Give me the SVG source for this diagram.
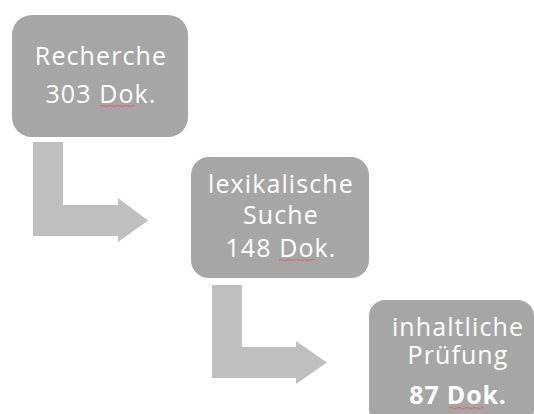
<svg xmlns="http://www.w3.org/2000/svg" width="534" height="414" viewBox="0 0 534 414">
<style>
.box{fill:#a6a6a6}
.arr{fill:#bfbfbf}
.t{fill:#ffffff;font-family:"Open Sans","DejaVu Sans",sans-serif;font-size:25px;letter-spacing:1.1px;text-anchor:middle}
.b{font-weight:bold;letter-spacing:0.8px}
.sq{fill:none;stroke:#e06060;stroke-width:1}
</style>
<rect width="534" height="414" fill="#ffffff"/>
<g id="connectors">
<polygon class="arr" points="33,142 63,142 63,205 118,205 118,198 148,220.5 118,242 118,236 33,236"/>
<polygon class="arr" points="212,285 242,285 242,347 296,347 296,341 327,362.5 296,384 296,378 212,378"/>
</g>
<g id="node-recherche">
<rect class="box" x="12" y="15" width="176" height="122" rx="20"/>
<text class="t" x="101" y="65">Recherche</text>
<text class="t" x="101" y="103">303 Dok.</text>
<path class="sq" d="M100,106 q2,-1 4,0 t4,0 t4,0 t4,0 t4,0 t4,0 t4,0 t4,0 t3,0"/>
</g>
<g id="node-lexikalisch">
<rect class="box" x="191" y="157" width="178" height="121" rx="18"/>
<text class="t" x="281" y="193">lexikalische</text>
<text class="t" x="281" y="224">Suche</text>
<text class="t" x="281" y="257">148 Dok.</text>
<path class="sq" d="M279,260 q2,-1 4,0 t4,0 t4,0 t4,0 t4,0 t4,0 t4,0 t4,0 t4,0"/>
</g>
<g id="node-inhaltlich">
<rect class="box" x="369" y="300" width="165" height="125" rx="16"/>
<text class="t" x="458" y="336">inhaltliche</text>
<text class="t" x="458" y="364">Prüfung</text>
<text class="t b" x="458" y="404">87 Dok.</text>
<path class="sq" d="M449,408 q2,-1 4,0 t4,0 t4,0 t4,0 t4,0 t4,0 t4,0 t4,0 t3,0"/>
</g>
</svg>
